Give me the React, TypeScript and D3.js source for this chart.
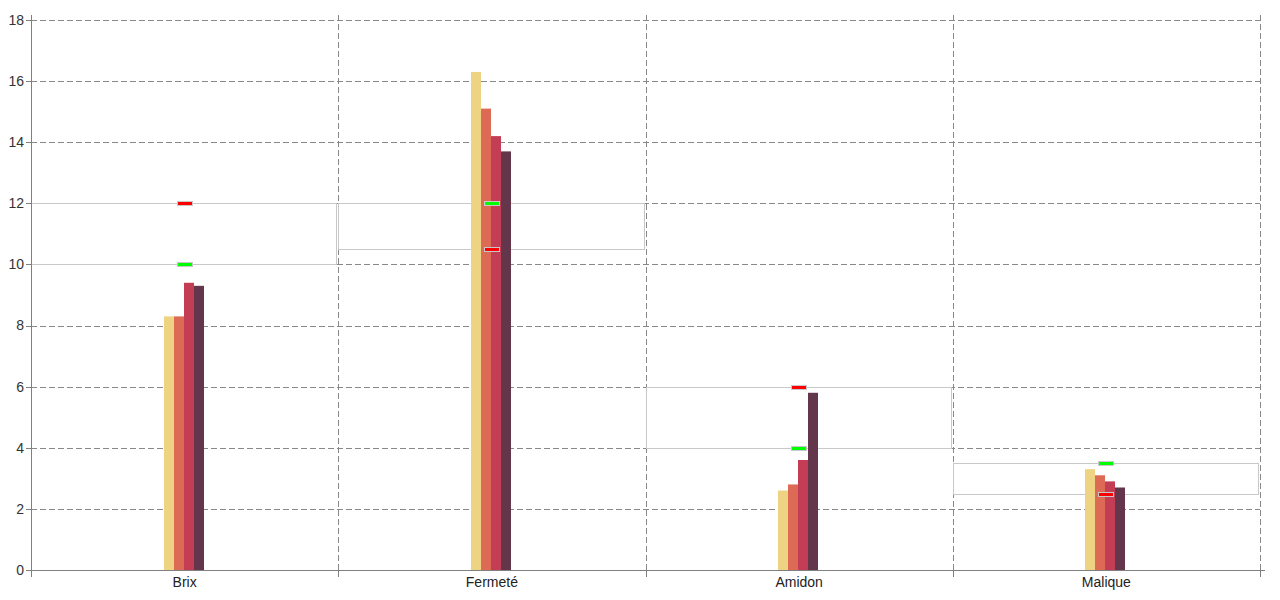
import React from "react";
import * as d3 from "d3";

const categories = ["Brix", "Fermeté", "Amidon", "Malique"];
const series1 = [8.3, 16.3, 2.6, 3.3];
const series2 = [8.3, 15.1, 2.8, 3.1];
const series3 = [9.4, 14.2, 3.6, 2.9];
const series4 = [9.3, 13.7, 5.8, 2.7];
const greenTargets = [10, 12, 4, 3.5];
const redTargets = [12, 10.5, 6, 2.5];
const yTicks = [0, 2, 4, 6, 8, 10, 12, 14, 16, 18];
const seriesColors = ["#edd382", "#dd6a55", "#c33d54", "#63364c"];

export default function App() {
  const W = 1280, H = 600;
  const left = 31, right = 1260, top = 20, bottom = 570;
  const x = d3.scaleBand<string>().domain(categories).range([left, right]).padding(0);
  const y = d3.scaleLinear().domain([0, 18]).range([bottom, top]);
  const series = [series1, series2, series3, series4];
  const barW = 10;
  const bounds = [...categories.map((c) => x(c)!), right];
  const font = "'Liberation Sans', Arial, sans-serif";
  return (
    <svg width={W} height={H} style={{ position: "absolute", left: 0, top: 0, background: "#fff" }}>
      {/* horizontal grid */}
      {yTicks.filter((t) => t > 0).map((t) => (
        <line key={"h" + t} x1={left} x2={right} y1={Math.round(y(t)) + 0.5} y2={Math.round(y(t)) + 0.5}
          stroke="#888" strokeDasharray="6,3" />
      ))}
      {/* vertical grid */}
      {bounds.slice(1).map((b, i) => (
        <line key={"v" + i} x1={Math.round(b) + 0.5} x2={Math.round(b) + 0.5} y1={top - 5} y2={bottom}
          stroke="#888" strokeDasharray="6,3" />
      ))}
      {/* range rectangles */}
      {categories.map((c, i) => {
        const lo = Math.min(greenTargets[i], redTargets[i]);
        const hi = Math.max(greenTargets[i], redTargets[i]);
        const x0 = Math.round(x(c)!) + 0.5;
        const x1 = Math.round(x(c)! + x.bandwidth()) - 1.5;
        return (
          <rect key={"r" + c} x={x0} y={Math.round(y(hi)) + 0.5} width={x1 - x0}
            height={Math.round(y(lo)) - Math.round(y(hi))} fill="none" stroke="#c8c8c8" />
        );
      })}
      {/* bars */}
      {categories.map((c, i) => {
        const cx = x(c)! + x.bandwidth() / 2;
        const start = Math.round(cx - 2 * barW) - 1;
        return series.map((s, j) => (
          <rect key={c + j} x={start + j * barW} y={y(s[i])} width={barW}
            height={bottom - y(s[i])} fill={seriesColors[j]} />
        ));
      })}
      {/* markers */}
      {categories.map((c, i) => {
        const cx = Math.round(x(c)! + x.bandwidth() / 2);
        return (
          <g key={"m" + c}>
            <rect x={cx - 7.5} y={Math.round(y(greenTargets[i])) - 1.5} width={15} height={4}
              fill="#00ff00" stroke="#c8c8c8" />
            <rect x={cx - 7.5} y={Math.round(y(redTargets[i])) - 1.5} width={15} height={4}
              fill="#ff0000" stroke="#c8c8c8" />
          </g>
        );
      })}
      {/* y axis */}
      <line x1={left + 0.5} x2={left + 0.5} y1={top - 5} y2={bottom + 7} stroke="#808080" />
      {yTicks.map((t) => (
        <g key={"yt" + t}>
          <line x1={left - 5} x2={left} y1={Math.round(y(t)) + 0.5} y2={Math.round(y(t)) + 0.5} stroke="#808080" />
          <text x={left - 7} y={y(t)} dy="0.35em" textAnchor="end" fontFamily={font} fontSize={14} fill="#333">
            {t}
          </text>
        </g>
      ))}
      {/* x axis */}
      <line x1={left} x2={right + 5} y1={bottom + 0.5} y2={bottom + 0.5} stroke="#808080" />
      {bounds.map((b, i) => (
        <line key={"xt" + i} x1={Math.round(b) + 0.5} x2={Math.round(b) + 0.5} y1={bottom} y2={bottom + 7} stroke="#808080" />
      ))}
      {categories.map((c) => (
        <text key={"xl" + c} x={x(c)! + x.bandwidth() / 2} y={bottom + 17} textAnchor="middle"
          fontFamily={font} fontSize={14} fill="#222">
          {c}
        </text>
      ))}
    </svg>
  );
}
